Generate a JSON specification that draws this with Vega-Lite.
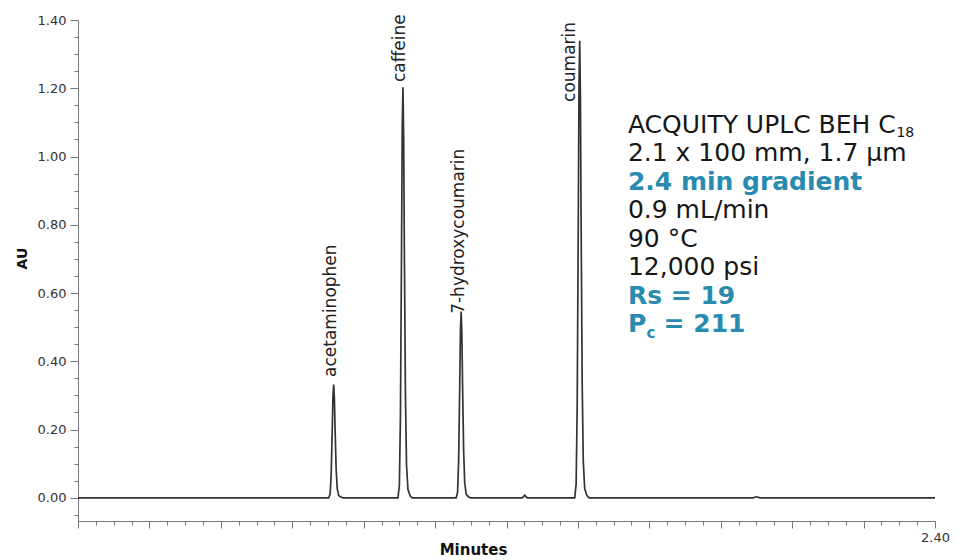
{
  "$schema": "https://vega.github.io/schema/vega-lite/v6.json",
  "width": 857,
  "height": 501,
  "autosize": {"type": "none"},
  "padding": {"left": 78, "top": 20, "right": 22, "bottom": 39},
  "background": "white",
  "config": {"view": {"stroke": null}},
  "datasets": {
    "trace": [
      {"t": 0, "au": 0},
      {"t": 0.702, "au": 0}, {"t": 0.706, "au": 0.010}, {"t": 0.709, "au": 0.066}, {"t": 0.712, "au": 0.199}, {"t": 0.714, "au": 0.299}, {"t": 0.716, "au": 0.332}, {"t": 0.718, "au": 0.292}, {"t": 0.720, "au": 0.199}, {"t": 0.723, "au": 0.083}, {"t": 0.726, "au": 0.027}, {"t": 0.730, "au": 0.007}, {"t": 0.736, "au": 0.002}, {"t": 0.742, "au": 0},
      {"t": 0.896, "au": 0}, {"t": 0.900, "au": 0.036}, {"t": 0.903, "au": 0.241}, {"t": 0.906, "au": 0.722}, {"t": 0.908, "au": 1.083}, {"t": 0.910, "au": 1.203}, {"t": 0.912, "au": 1.059}, {"t": 0.914, "au": 0.722}, {"t": 0.917, "au": 0.301}, {"t": 0.920, "au": 0.096}, {"t": 0.924, "au": 0.024}, {"t": 0.930, "au": 0.006}, {"t": 0.936, "au": 0},
      {"t": 1.059, "au": 0}, {"t": 1.063, "au": 0.016}, {"t": 1.066, "au": 0.109}, {"t": 1.069, "au": 0.328}, {"t": 1.071, "au": 0.491}, {"t": 1.073, "au": 0.546}, {"t": 1.075, "au": 0.480}, {"t": 1.077, "au": 0.328}, {"t": 1.080, "au": 0.137}, {"t": 1.083, "au": 0.044}, {"t": 1.087, "au": 0.011}, {"t": 1.093, "au": 0.003}, {"t": 1.099, "au": 0},
      {"t": 1.244, "au": 0}, {"t": 1.248, "au": 0.004}, {"t": 1.251, "au": 0.008}, {"t": 1.254, "au": 0.004}, {"t": 1.258, "au": 0},
      {"t": 1.391, "au": 0}, {"t": 1.395, "au": 0.040}, {"t": 1.398, "au": 0.268}, {"t": 1.401, "au": 0.803}, {"t": 1.403, "au": 1.205}, {"t": 1.405, "au": 1.339}, {"t": 1.407, "au": 1.178}, {"t": 1.409, "au": 0.803}, {"t": 1.412, "au": 0.335}, {"t": 1.415, "au": 0.107}, {"t": 1.419, "au": 0.027}, {"t": 1.425, "au": 0.007}, {"t": 1.431, "au": 0},
      {"t": 1.89, "au": 0}, {"t": 1.90, "au": 0.003}, {"t": 1.91, "au": 0},
      {"t": 2.4, "au": 0}
    ],
    "peaks": [
      {"name": "acetaminophen", "t": 0.708, "au": 0.354},
      {"name": "caffeine", "t": 0.903, "au": 1.218},
      {"name": "7-hydroxycoumarin", "t": 1.067, "au": 0.539},
      {"name": "coumarin", "t": 1.378, "au": 1.160}
    ],
    "notes_plain": [
      {"text": "ACQUITY UPLC BEH C", "t": 1.54, "au": 1.0703},
      {"text": "2.1 x 100 mm, 1.7 µm", "t": 1.54, "au": 0.9868},
      {"text": "0.9 mL/min", "t": 1.54, "au": 0.8198},
      {"text": "90 °C", "t": 1.54, "au": 0.7363},
      {"text": "12,000 psi", "t": 1.54, "au": 0.6528}
    ],
    "notes_blue": [
      {"text": "2.4 min gradient", "t": 1.54, "au": 0.9033},
      {"text": "Rs = 19", "t": 1.54, "au": 0.5693},
      {"text": "P", "t": 1.54, "au": 0.4858},
      {"text": "= 211", "t": 1.64, "au": 0.4858}
    ],
    "sub_plain": [{"text": "18", "t": 2.292, "au": 1.058}],
    "sub_blue": [{"text": "c", "t": 1.592, "au": 0.469}]
  },
  "layer": [
    {
      "data": {"name": "trace"},
      "mark": {"type": "line", "color": "#333333", "strokeWidth": 1.7, "interpolate": "linear"},
      "encoding": {
        "x": {
          "field": "t", "type": "quantitative",
          "scale": {"domain": [0, 2.4], "nice": false, "zero": false},
          "axis": {
            "orient": "bottom",
            "values": [0, 0.2, 0.4, 0.6, 0.8, 1.0, 1.2, 1.4, 1.6, 1.8, 2.0, 2.2, 2.4],
            "labelExpr": "abs(datum.value - 2.4) < 0.001 ? '2.40' : ''",
            "labelOverlap": false, "labelBound": false, "labelFlush": false,
            "grid": false, "tickSize": 7, "tickColor": "#777777", "domainColor": "#777777",
            "labelFont": "DejaVu Sans", "labelFontSize": 13, "labelColor": "#333333", "labelPadding": 3,
            "title": "Minutes", "titleFont": "DejaVu Sans", "titleFontSize": 15, "titleFontWeight": "bold",
            "titleColor": "#111111", "titleX": 395, "titleY": 28, "titleBaseline": "middle", "titleAlign": "center"
          }
        },
        "y": {
          "field": "au", "type": "quantitative",
          "scale": {"domain": [-0.068, 1.4], "nice": false, "zero": false},
          "axis": {
            "orient": "left",
            "values": [0, 0.2, 0.4, 0.6, 0.8, 1.0, 1.2, 1.4],
            "format": ".2f",
            "grid": false, "tickSize": 8, "tickColor": "#777777", "domainColor": "#777777",
            "labelFont": "DejaVu Sans", "labelFontSize": 13, "labelColor": "#333333", "labelPadding": 4,
            "labelOverlap": false, "labelFlush": false,
            "title": "AU", "titleFont": "DejaVu Sans", "titleFontSize": 14, "titleFontWeight": "bold",
            "titleColor": "#111111", "titleX": -56, "titleY": 238, "titleAngle": 270,
            "titleBaseline": "middle", "titleAlign": "center"
          }
        }
      }
    },
    {
      "data": {"name": "peaks"},
      "mark": {"type": "text", "angle": 270, "align": "left", "baseline": "middle", "font": "DejaVu Sans", "fontSize": 17, "color": "#222222"},
      "encoding": {
        "x": {
          "field": "t", "type": "quantitative",
          "axis": {
            "orient": "bottom",
            "values": [0.05, 0.1, 0.15, 0.25, 0.3, 0.35, 0.45, 0.5, 0.55, 0.65, 0.7, 0.75, 0.85, 0.9, 0.95, 1.05, 1.1, 1.15, 1.25, 1.3, 1.35, 1.45, 1.5, 1.55, 1.65, 1.7, 1.75, 1.85, 1.9, 1.95, 2.05, 2.1, 2.15, 2.25, 2.3, 2.35],
            "labels": false, "domain": false, "grid": false, "tickSize": 4, "tickColor": "#777777", "title": null
          }
        },
        "y": {
          "field": "au", "type": "quantitative",
          "axis": {
            "orient": "left",
            "values": [-0.05, 0.05, 0.1, 0.15, 0.25, 0.3, 0.35, 0.45, 0.5, 0.55, 0.65, 0.7, 0.75, 0.85, 0.9, 0.95, 1.05, 1.1, 1.15, 1.25, 1.3, 1.35],
            "labels": false, "domain": false, "grid": false, "tickSize": 4, "tickColor": "#777777", "title": null
          }
        },
        "text": {"field": "name"}
      }
    },
    {
      "data": {"name": "notes_plain"},
      "mark": {"type": "text", "align": "left", "baseline": "alphabetic", "font": "DejaVu Sans", "fontSize": 25, "color": "#161616"},
      "encoding": {
        "x": {"field": "t", "type": "quantitative", "axis": null},
        "y": {"field": "au", "type": "quantitative", "axis": null},
        "text": {"field": "text"}
      }
    },
    {
      "data": {"name": "notes_blue"},
      "mark": {"type": "text", "align": "left", "baseline": "alphabetic", "font": "DejaVu Sans", "fontSize": 25, "fontWeight": "bold", "color": "#2a8bb0"},
      "encoding": {
        "x": {"field": "t", "type": "quantitative", "axis": null},
        "y": {"field": "au", "type": "quantitative", "axis": null},
        "text": {"field": "text"}
      }
    },
    {
      "data": {"name": "sub_plain"},
      "mark": {"type": "text", "align": "left", "baseline": "alphabetic", "font": "DejaVu Sans", "fontSize": 14, "color": "#161616"},
      "encoding": {
        "x": {"field": "t", "type": "quantitative", "axis": null},
        "y": {"field": "au", "type": "quantitative", "axis": null},
        "text": {"field": "text"}
      }
    },
    {
      "data": {"name": "sub_blue"},
      "mark": {"type": "text", "align": "left", "baseline": "alphabetic", "font": "DejaVu Sans", "fontSize": 15, "fontWeight": "bold", "color": "#2a8bb0"},
      "encoding": {
        "x": {"field": "t", "type": "quantitative", "axis": null},
        "y": {"field": "au", "type": "quantitative", "axis": null},
        "text": {"field": "text"}
      }
    }
  ],
  "resolve": {"axis": {"x": "independent", "y": "independent"}}
}
